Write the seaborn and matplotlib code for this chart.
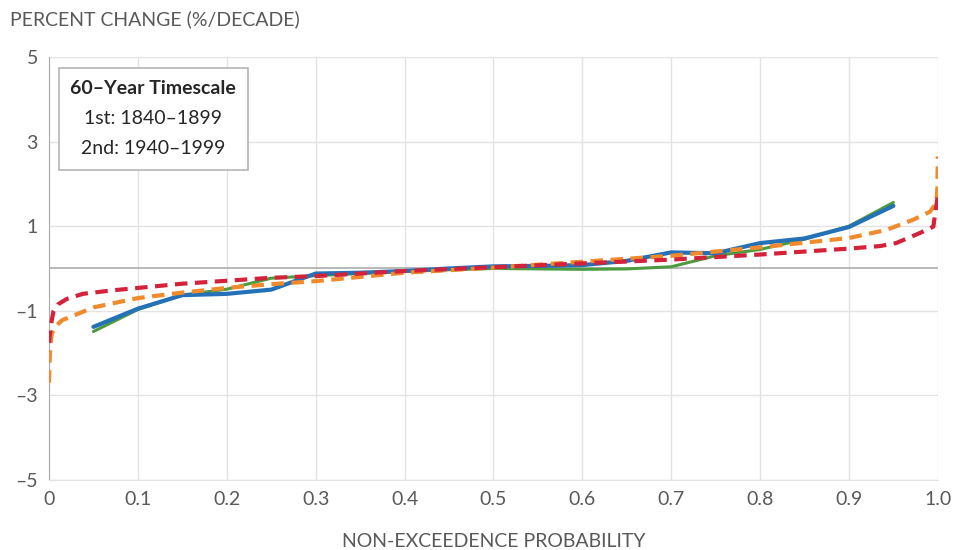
import matplotlib
matplotlib.use('Agg')
import pandas as pd
import seaborn as sns
import matplotlib.pyplot as plt
from matplotlib.patches import Rectangle

# step series (0.05 .. 0.95)
prob_steps = [0.05, 0.1, 0.15, 0.2, 0.25, 0.3, 0.35, 0.4, 0.45, 0.5,
              0.55, 0.6, 0.65, 0.7, 0.75, 0.8, 0.85, 0.9, 0.95]
blue_vals = [-1.38, -0.95, -0.63, -0.60, -0.50, -0.12, -0.10, -0.06, 0.0, 0.05,
             0.06, 0.08, 0.18, 0.38, 0.36, 0.60, 0.71, 0.98, 1.48]
green_vals = [-1.49, -0.97, -0.63, -0.49, -0.23, -0.17, -0.12, -0.07, -0.03, 0.0,
              -0.01, -0.02, -0.01, 0.04, 0.30, 0.45, 0.69, 1.0, 1.56]

# fitted curves
orange_x = [0, 0.001, 0.003, 0.007, 0.015, 0.027, 0.05, 0.1, 0.15, 0.2, 0.25, 0.3,
            0.4, 0.5, 0.6, 0.7, 0.8, 0.9, 0.942, 0.972, 0.991, 0.9985, 0.9995, 1.0]
orange_y = [-2.7, -2.0, -1.55, -1.37, -1.22, -1.12, -0.92, -0.70, -0.57, -0.46, -0.37, -0.30,
            -0.10, 0.02, 0.16, 0.30, 0.50, 0.72, 0.91, 1.15, 1.34, 1.55, 1.9, 2.65]
red_x = [0, 0.002, 0.005, 0.01, 0.02, 0.038, 0.07, 0.1, 0.15, 0.2, 0.25, 0.3,
         0.4, 0.5, 0.6, 0.7, 0.8, 0.9, 0.935, 0.953, 0.98, 0.995, 0.997, 1.0]
red_y = [-1.76, -1.35, -1.02, -0.85, -0.72, -0.60, -0.52, -0.46, -0.36, -0.29, -0.22, -0.18,
         -0.06, 0.03, 0.12, 0.21, 0.33, 0.47, 0.53, 0.60, 0.84, 0.99, 1.3, 1.72]

x_ticks = [0, 0.1, 0.2, 0.3, 0.4, 0.5, 0.6, 0.7, 0.8, 0.9, 1.0]
x_labels = ['0', '0.1', '0.2', '0.3', '0.4', '0.5', '0.6', '0.7', '0.8', '0.9', '1.0']
y_ticks = [5, 3, 1, -1, -3, -5]
y_labels = ['5', '3', '1', '\u20131', '\u20133', '\u20135']

TEXT = '#595959'
GRID = '#e3e3e3'
AXIS = '#ababab'

sns.set_style('white')
plt.rcParams['font.family'] = ['Lato', 'DejaVu Sans']

fig = plt.figure(figsize=(9.55, 5.5), dpi=100)
ax = fig.add_axes([0.0513, 0.1273, 0.9307, 0.7691])

steps = pd.DataFrame({'p': prob_steps, 'blue': blue_vals, 'green': green_vals})
sns.lineplot(data=steps, x='p', y='green', ax=ax, color='#4c9b3f', lw=2.2, zorder=3)
sns.lineplot(data=steps, x='p', y='blue', ax=ax, color='#2471b8', lw=3.0, zorder=3.1)
sns.lineplot(x=orange_x, y=orange_y, ax=ax, color='#f08a2c', lw=3.0,
             zorder=4).lines[-1].set_dashes([3.0, 1.8])
sns.lineplot(x=red_x, y=red_y, ax=ax, color='#d32239', lw=3.0,
             zorder=4.1).lines[-1].set_dashes([3.0, 1.8])

ax.axhline(0, color=AXIS, lw=1.2, zorder=2)
ax.set_xlim(0, 1.0)
ax.set_ylim(-5, 5)
ax.set_xticks(x_ticks)
ax.set_xticklabels(x_labels)
ax.set_yticks(y_ticks)
ax.set_yticklabels(y_labels)
ax.grid(True, color=GRID, lw=1.0, zorder=0)
ax.tick_params(length=0, labelsize=14, labelcolor=TEXT, pad=8)
for side in ['top', 'right']:
    ax.spines[side].set_visible(False)
ax.spines['left'].set_color(AXIS)
ax.spines['bottom'].set_color(GRID)
ax.set_xlabel('NON-EXCEEDENCE PROBABILITY', fontsize=14, color=TEXT, labelpad=18)
ax.set_ylabel('')
fig.text(0.01, 0.965, 'PERCENT CHANGE (%/DECADE)', fontsize=14, color=TEXT, va='center')

# timescale box
fig.patches.append(Rectangle((59 / 955, 1 - 170 / 550), 189 / 955, 102 / 550,
                             transform=fig.transFigure, facecolor='white',
                             edgecolor='#b5b5b5', lw=1.2, zorder=5))
fig.text(153 / 955, 1 - 89 / 550, '60\u2013Year Timescale', fontsize=14, fontweight='bold',
         color='#262626', ha='center', va='center', zorder=6)
fig.text(153 / 955, 1 - 118 / 550, '1st: 1840\u20131899', fontsize=14,
         color='#262626', ha='center', va='center', zorder=6)
fig.text(153 / 955, 1 - 148 / 550, '2nd: 1940\u20131999', fontsize=14,
         color='#262626', ha='center', va='center', zorder=6)

fig.savefig('out.png', dpi=100)
